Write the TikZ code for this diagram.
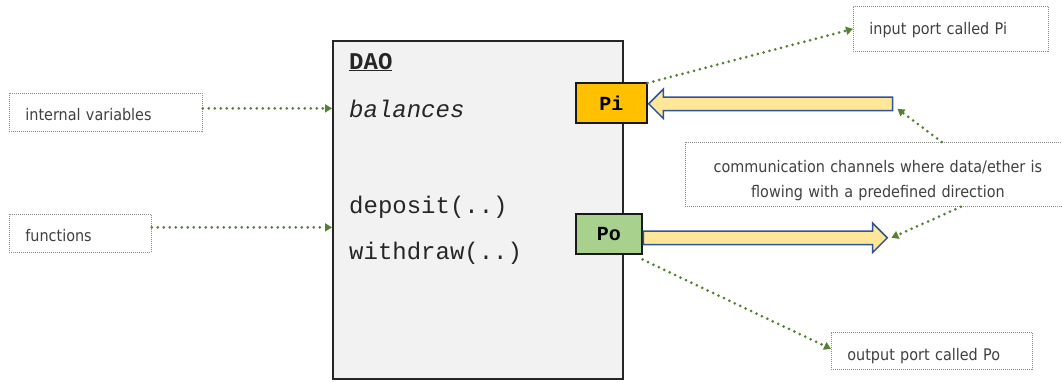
\documentclass[tikz,border=0pt]{standalone}
\usepackage{fontspec}
\setmonofont{Liberation Mono}
\newfontfamily\notefont{DejaVu Sans}[FakeStretch=0.9]
\usetikzlibrary{positioning,arrows.meta,shapes.arrows}
\definecolor{daogray}{HTML}{F2F2F2}
\definecolor{pifill}{HTML}{FFC000}
\definecolor{pofill}{HTML}{A9D18E}
\definecolor{chanfill}{HTML}{FFE699}
\definecolor{chanblue}{HTML}{2F5597}
\definecolor{hintgreen}{HTML}{548235}
\definecolor{notegray}{HTML}{8C8C8C}
\definecolor{notetext}{HTML}{404040}
\tikzset{
  daobox/.style={draw=black!85, fill=daogray, line width=1.6pt, inner sep=0pt},
  code/.style={font=\fontsize{24}{28}\selectfont\ttfamily, text=black!85, inner sep=0pt, anchor=base west},
  port/.style={draw=black!90, line width=1.6pt, inner sep=0pt, font=\fontsize{20}{24}\selectfont\ttfamily\bfseries},
  chan/.style={single arrow, draw=chanblue, fill=chanfill, line width=1.5pt, inner xsep=0pt, inner ysep=6pt,
    minimum width=28, single arrow head extend=8pt, single arrow tip angle=90},
  note/.style={draw=notegray, line width=0.8pt, dash pattern=on 1pt off 1pt, anchor=north west,
    font=\fontsize{16}{25}\selectfont\notefont, text=notetext, inner xsep=16pt, inner ysep=0pt,
    text height=19pt, text depth=2pt, align=left},
  hint/.style={draw=hintgreen, line width=3pt, dash pattern=on 0pt off 6pt, line cap=round,
    -{Triangle[length=7pt,width=8pt,fill=hintgreen]}}
}
\begin{document}
\begin{tikzpicture}[x=1pt,y=-1pt]
  \useasboundingbox (0,0) rectangle (1062,381);
  \clip (0,0) rectangle (1062,381);

  \node[daobox, minimum width=290, minimum height=338, anchor=north west] (dao) at (332,40) {};
  \node[code, font=\fontsize{24}{28}\selectfont\ttfamily\bfseries] (daoname) at (349,69) {\underline{DAO}};
  \node[code] (balances) at (349,117) {\textit{balances}};
  \node[code] (deposit) at (349,213) {deposit(..)};
  \node[code] (withdraw) at (349,259) {withdraw(..)};

  \node[port, fill=pifill, minimum width=71, minimum height=40, anchor=north west] (Pi) at (575,82) {Pi};
  \node[port, fill=pofill, minimum width=66, minimum height=40, anchor=north west] (Po) at (575,213) {Po};

  \node[chan, shape border rotate=180, minimum height=244, anchor=tip] (chin) at ([yshift=-1pt]Pi.east) {};
  \node[chan, minimum height=244, anchor=tail] (chout) at ([yshift=-4pt]Po.east) {};

  \node[note, minimum width=193, minimum height=38, text width=161] (ivars) at (9,93) {internal variables};
  \node[note, minimum width=142, minimum height=38, text width=110] (funcs) at (9,214) {functions};
  \node[note, minimum width=195, minimum height=45, text width=163, text height=13pt] (inport) at (853,6) {input port called Pi};
  \node[note, minimum width=201, minimum height=37, text width=169, text height=22pt] (outport) at (831,332) {output port called Po};
  \node[note, minimum width=385, minimum height=64, text width=353, align=center, text height=14pt, text depth=18pt] (comm) at (685,142)
    {communication channels where data/ether is\\flowing with a predefined direction};

  \draw[hint] ([yshift=4pt]ivars.east) -- ([yshift=4pt]ivars.east -| dao.west);
  \draw[hint] ([yshift=6pt]funcs.east) -- ([yshift=6pt]funcs.east -| dao.west);
  \draw[hint] ([yshift=-1pt]Pi.north east) -- (inport.west);
  \draw[hint] ([xshift=64pt]comm.north) -- ([shift={(4pt,-5pt)}]chin.tail);
  \draw[hint] ([xshift=83pt]comm.south) -- ([xshift=3pt]chout.tip);
  \draw[hint] ([yshift=-5pt]Po.south east) -- ([yshift=2pt]outport.west);
\end{tikzpicture}
\end{document}
